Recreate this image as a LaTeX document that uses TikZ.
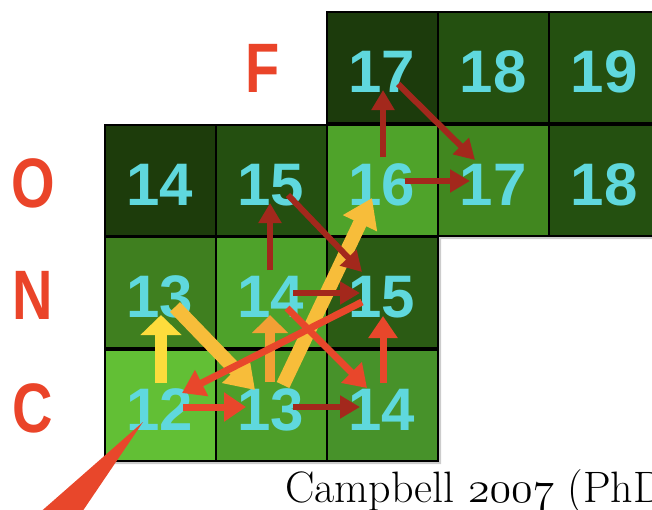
\RequirePackage{fix-cm}
\documentclass[tikz,border=0pt]{standalone}
\usepackage{fontspec}
\usetikzlibrary{arrows.meta}
\newfontfamily\cellfont{Liberation Sans}
\newfontfamily\rowfont{Liberation Sans}[FakeStretch=0.8]
\definecolor{numcyan}{HTML}{5FD8DD}
\definecolor{lblred}{HTML}{EA4429}
\definecolor{hopdarkc}{HTML}{A3281C}
\definecolor{hopredc}{HTML}{E8472B}
\definecolor{hopyelc}{HTML}{FDDC3C}
\definecolor{hopgoldc}{HTML}{F7BD3A}
\definecolor{hoporc}{HTML}{F2A035}
\definecolor{cellF17}{HTML}{1C3B0C}
\definecolor{cellF18}{HTML}{245010}
\definecolor{cellF19}{HTML}{245010}
\definecolor{cellO14}{HTML}{1D3C0B}
\definecolor{cellO15}{HTML}{244F10}
\definecolor{cellO16}{HTML}{4FA32A}
\definecolor{cellO17}{HTML}{41871F}
\definecolor{cellO18}{HTML}{245010}
\definecolor{cellN13}{HTML}{3F7F1F}
\definecolor{cellN14}{HTML}{4EA22A}
\definecolor{cellN15}{HTML}{2B5B14}
\definecolor{cellC12}{HTML}{62BF35}
\definecolor{cellC13}{HTML}{4E9E29}
\definecolor{cellC14}{HTML}{47922A}
\newcommand\oldyear[1]{{\fontencoding{OML}\fontfamily{cmm}\fontseries{m}\fontshape{it}\fontsize{44}{44}\selectfont #1}}
\begin{document}
\begin{tikzpicture}[x=1pt,y=-1pt,
  cell/.style={draw=black,line width=2pt,minimum size=111pt,inner sep=0pt,text height=51pt,text depth=0pt,text=numcyan,font=\cellfont\bfseries\fontsize{60}{60}\selectfont},
  rowlbl/.style={text=lblred,font=\rowfont\bfseries\fontsize{70}{70}\selectfont},
  hopdark/.style={draw=hopdarkc,line width=6pt,-{Triangle[length=20pt,width=22pt]}},
  hopred/.style={draw=hopredc,line width=7pt,-{Triangle[length=22pt,width=28pt]}},
  hopyel/.style={draw=hopyelc,line width=12pt,-{Triangle[length=20pt,width=40pt]}},
  hopgold/.style={draw=hopgoldc,line width=14pt,-{Triangle[length=28pt,width=36pt]}},
  hopor/.style={draw=hoporc,line width=10pt,-{Triangle[length=18pt,width=35pt]}}]
\useasboundingbox (0,0) rectangle (652,509);
\clip (0,0) rectangle (652,509);
% shadow under the grid
\fill[black!20] (106,126) -- (329,126) -- (329,13) -- (660,13) -- (660,239) -- (441,239) -- (441,464) -- (106,464) -- cycle;
% cells
\foreach \nm/\v/\x/\y in {F17/17/382/67,F18/18/493/67,F19/19/604/67,O14/14/160/180,O15/15/271/180,O16/16/382/180,O17/17/493/180,O18/18/604/180,N13/13/160/292,N14/14/271/292,N15/15/382/292,C12/12/160/405,C13/13/271/405,C14/14/382/405} \node[cell,fill=cell\nm] (\nm) at (\x,\y) {\v};
% row labels
\node[rowlbl] (lblF) at (263,68) {F};
\node[rowlbl] (lblO) at (33,183) {O};
\node[rowlbl] (lblN) at (33,295) {N};
\node[rowlbl] (lblC) at (33,408) {C};
% pointer from 12
\fill[hopredc] ([shift={(-17,17)}]C12.center) -- (37,515) -- (80,515) -- cycle;
% yellow and orange hops
\draw[hopyel] ([shift={(1,-22)}]C12.center) -- ([shift={(1,23)}]N13.center);
\draw[hopgold] ([shift={(15,15)}]N13.center) -- ([shift={(-16,-15)}]C13.center);
\draw[hopor] ([shift={(-1,-23)}]C13.center) -- ([shift={(-1,23)}]N14.center);
\draw[hopgold] ([shift={(12,-20)}]C13.center) -- ([shift={(-10,18)}]O16.center);
% red hops
\draw[hopred] ([shift={(23,2)}]C12.center) -- ([shift={(-25,2)}]C13.center);
\draw[hopred] ([shift={(-20,10)}]N15.center) -- ([shift={(22,-12)}]C12.center);
\draw[hopred] ([shift={(16,16)}]N14.center) -- ([shift={(-15,-17)}]C14.center);
\draw[hopred] ([shift={(1,-22)}]C14.center) -- ([shift={(1,24)}]N15.center);
% dark red hops
\draw[hopdark] ([shift={(22,2)}]C13.center) -- ([shift={(-22,2)}]C14.center);
\draw[hopdark] ([shift={(22,1)}]N14.center) -- ([shift={(-22,1)}]N15.center);
\draw[hopdark] ([shift={(-1,-22)}]N14.center) -- ([shift={(-1,23)}]O15.center);
\draw[hopdark] ([shift={(17,15)}]O15.center) -- ([shift={(-20,-20)}]N15.center);
\draw[hopdark] ([shift={(1,-23)}]O16.center) -- ([shift={(1,23)}]F17.center);
\draw[hopdark] ([shift={(16,17)}]F17.center) -- ([shift={(-18,-20)}]O17.center);
\draw[hopdark] ([shift={(23,1)}]O16.center) -- ([shift={(-23,1)}]O17.center);
% source
\node[anchor=base west,inner sep=0pt,font=\fontsize{44}{44}\selectfont] (cite) at (285,502) {Campbell \oldyear{2007} (PhD};
\end{tikzpicture}
\end{document}
